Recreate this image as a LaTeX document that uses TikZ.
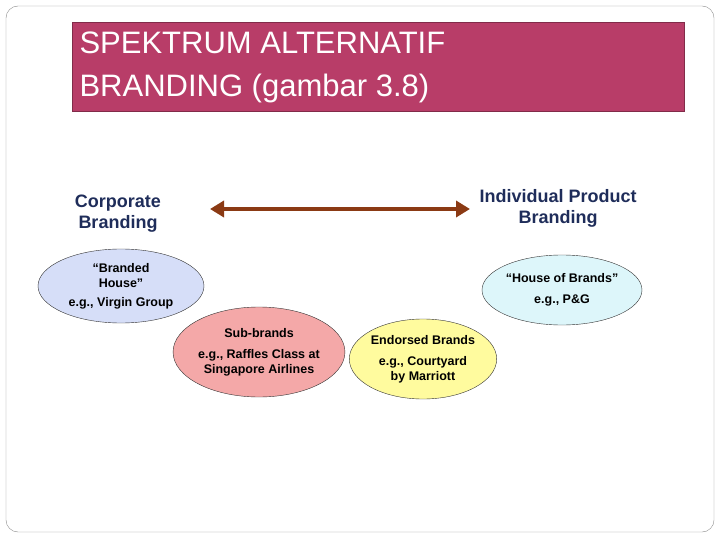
\documentclass[tikz,border=0pt]{standalone}
\usepackage{fontspec}
\setmainfont{Liberation Sans}
\usetikzlibrary{arrows.meta,shapes.geometric}
\definecolor{titlered}{HTML}{B83D68}
\definecolor{navy}{HTML}{1F2D5A}
\definecolor{arrowbrown}{HTML}{8B3A14}
\definecolor{houseblue}{HTML}{D6DEF8}
\definecolor{subpink}{HTML}{F4A8A8}
\definecolor{endyellow}{HTML}{FFFB9E}
\definecolor{hobcyan}{HTML}{DDF6FA}
\tikzset{
	brand/.style={ellipse, draw=black!80, thin, align=center, inner sep=0pt, font=\fontsize{12.5}{15}\selectfont\bfseries},
	heading/.style={align=center, text=navy, font=\fontsize{18}{21}\selectfont\bfseries}
}
\begin{document}
\begin{tikzpicture}[x=1pt,y=-1pt]

	%page
	\useasboundingbox (0,0) rectangle (720,540);
	\draw[black!45, rounded corners=12] (6,6) rectangle (714,532);

	%title
	\filldraw[fill=titlered, draw=titlered!70!black] (72,22) rectangle (684,111);
	\node[anchor=north west, align=left, text=white, font=\fontsize{31}{43}\selectfont] (title) at (76,28) {SPEKTRUM ALTERNATIF\\BRANDING (gambar 3.8)};

	%headings
	\node[heading] (corp) at (118,214) {Corporate\\Branding};
	\node[heading] (indiv) at (558,208) {Individual Product\\Branding};
	\coordinate (left) at (210,209);
	\coordinate (right) at (470,209);
	\draw[arrowbrown, line width=3.5pt, {Triangle[length=14pt,width=16pt]}-{Triangle[length=14pt,width=16pt]}] (left) -- (right);

	%ellipses
	\node[brand, fill=houseblue, minimum width=166, minimum height=74] (house) at (121,286) {``Branded\\House''\\[4pt]e.g., Virgin Group};
	\node[brand, fill=subpink, minimum width=150, minimum height=90] (sub) at (259,352) {Sub-brands\\[6pt]e.g., Raffles Class at\\Singapore Airlines};
	\node[brand, fill=endyellow, minimum width=144, minimum height=80] (endorsed) at (423,359) {Endorsed Brands\\[6pt]e.g., Courtyard\\by Marriott};
	\node[brand, fill=hobcyan, minimum width=160, minimum height=70] (hob) at (562,290) {``House of Brands''\\[6pt]e.g., P\&G};

\end{tikzpicture}
\end{document}
